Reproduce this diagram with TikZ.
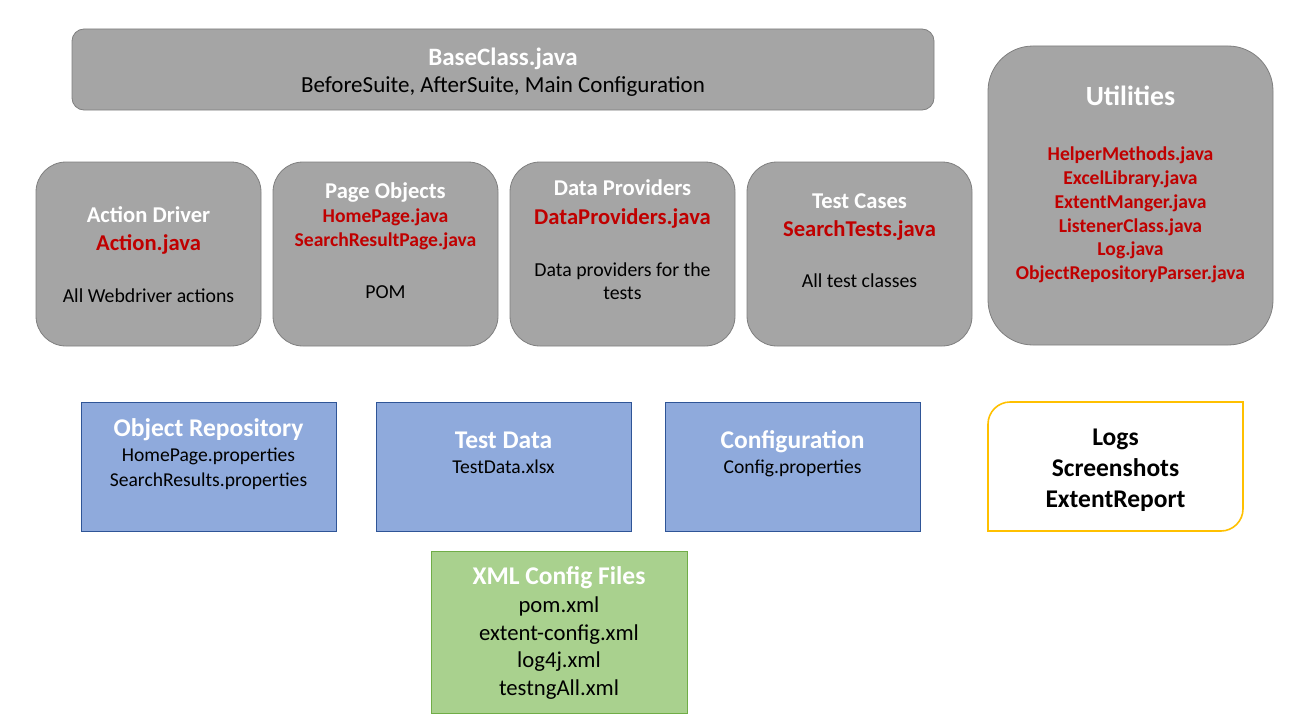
\documentclass[tikz,border=0pt]{standalone}
\usepackage{fontspec}
\setmainfont{Carlito}
\definecolor{gfill}{HTML}{A5A5A5}
\definecolor{gline}{HTML}{7F7F7F}
\definecolor{bfill}{HTML}{8FAADC}
\definecolor{bline}{HTML}{2F5597}
\definecolor{xfill}{HTML}{A9D18E}
\definecolor{xline}{HTML}{70AD47}
\definecolor{yline}{HTML}{FFC000}
\definecolor{redc}{HTML}{C00000}
\newcommand\fz[1]{\fontsize{#1}{#1}\selectfont}
\newcommand\tx[4]{\node[tl,#4] (#1) at (#2,#3)}
\begin{document}
\begin{tikzpicture}[x=1pt,y=-1pt,
  tl/.style={anchor=base,inner sep=0pt},
  gbox/.style={draw=gline,fill=gfill,line width=0.8pt,inner sep=0pt},
  bbox/.style={draw=bline,fill=bfill,line width=0.8pt,inner sep=0pt,minimum width=255,minimum height=129},
  xbox/.style={draw=xline,fill=xfill,line width=0.8pt,inner sep=0pt},
  ybox/.style={draw=yline,line width=1.6pt},
  toptitle/.style={font=\fz{22.6}\bfseries,text=white},
  bigred/.style={font=\fz{22.6}\bfseries,text=redc},
  smallred/.style={font=\fz{19.6}\bfseries,text=redc},
  body/.style={font=\fz{19.8},text=black},
  lowtitle/.style={font=\fz{25.5}\bfseries,text=white},
  lowbody/.style={font=\fz{19.6},text=black},
  xmlbody/.style={font=\fz{22.7},text=black},
  logtext/.style={font=\fz{25.5}\bfseries,text=black}
]
\useasboundingbox (0,0) rectangle (1289,725);

% boxes
\node[gbox,rounded corners=12,minimum width=862,minimum height=81] (base) at (503,69.5) {};
\node[gbox,rounded corners=30,minimum width=225,minimum height=184] (ad) at (148.5,254) {};
\node[gbox,rounded corners=30,minimum width=225,minimum height=184] (po) at (385.5,254) {};
\node[gbox,rounded corners=30,minimum width=225,minimum height=184] (dp) at (622.5,254) {};
\node[gbox,rounded corners=30,minimum width=225,minimum height=184] (tc) at (859.5,254) {};
\node[gbox,rounded corners=45,minimum width=285,minimum height=299] (ut) at (1130.5,195.5) {};
\node[bbox] (or) at (208.5,466.5) {};
\node[bbox] (td) at (503.5,466.5) {};
\node[bbox] (cf) at (792.5,466.5) {};
\node[xbox,minimum width=256,minimum height=162] (xml) at (559,632) {};
\draw[ybox] (988,531) -- (988,424) .. controls (988,412) and (998,402) .. (1010,402)
  -- (1243,402) -- (1243,509) .. controls (1243,521) and (1233,531) .. (1221,531) -- cycle;

% base class
\tx{b1}{503}{65}{font=\fz{25}\bfseries,text=white}{BaseClass.java};
\tx{b2}{503}{92}{font=\fz{23},text=black}{BeforeSuite, AfterSuite, Main Configuration};

% action driver
\tx{a1}{148.5}{222.5}{toptitle}{Action Driver};
\tx{a2}{148.5}{250}{bigred}{Action.java};
\tx{a3}{148.5}{302}{body}{All Webdriver actions};

% page objects
\tx{p1}{385.5}{198}{toptitle}{Page Objects};
\tx{p2}{385.5}{222.7}{smallred}{HomePage.java};
\tx{p3}{385.5}{246.7}{smallred}{SearchResultPage.java};
\tx{p4}{385.5}{298.3}{body}{POM};

% data providers
\tx{d1}{622.5}{195.7}{toptitle}{Data Providers};
\tx{d2}{622.5}{224}{bigred}{DataProviders.java};
\tx{d3}{622.5}{276}{body}{Data providers for the};
\tx{d4}{622.5}{299.3}{body}{tests};

% test cases
\tx{t1}{859.5}{208.3}{toptitle}{Test Cases};
\tx{t2}{859.5}{236}{bigred}{SearchTests.java};
\tx{t3}{859.5}{287.3}{body}{All test classes};

% utilities
\tx{u0}{1130.5}{105}{font=\fz{27.8}\bfseries,text=white}{Utilities};
\tx{u1}{1130.5}{160}{smallred}{HelperMethods.java};
\tx{u2}{1130.5}{184}{smallred}{ExcelLibrary.java};
\tx{u3}{1130.5}{208}{smallred}{ExtentManger.java};
\tx{u4}{1130.5}{232}{smallred}{ListenerClass.java};
\tx{u5}{1130.5}{255.5}{smallred}{Log.java};
\tx{u6}{1130.5}{279.5}{smallred}{ObjectRepositoryParser.java};

% object repository
\tx{o1}{208.5}{436}{lowtitle}{Object Repository};
\tx{o2}{208.5}{461}{lowbody}{HomePage.properties};
\tx{o3}{208.5}{486}{lowbody}{SearchResults.properties};

% test data
\tx{e1}{503.5}{448}{lowtitle}{Test Data};
\tx{e2}{503.5}{473}{lowbody}{TestData.xlsx};

% configuration
\tx{c1}{792.5}{448}{lowtitle}{Configuration};
\tx{c2}{792.5}{473}{lowbody}{Config.properties};

% logs
\tx{l1}{1115.5}{445}{logtext}{Logs};
\tx{l2}{1115.5}{476}{logtext}{Screenshots};
\tx{l3}{1115.5}{507}{logtext}{ExtentReport};

% xml
\tx{x1}{559}{584}{lowtitle}{XML Config Files};
\tx{x2}{559}{612.5}{xmlbody}{pom.xml};
\tx{x3}{559}{640}{xmlbody}{extent-config.xml};
\tx{x4}{559}{667.5}{xmlbody}{log4j.xml};
\tx{x5}{559}{695}{xmlbody}{testngAll.xml};
\end{tikzpicture}
\end{document}
